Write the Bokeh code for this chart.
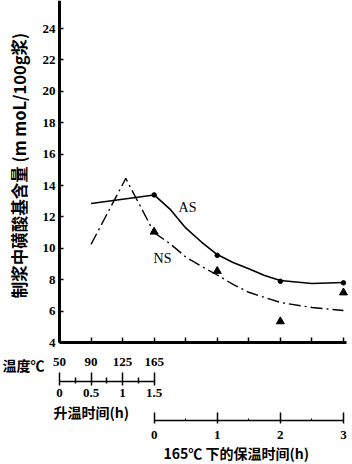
import math
from bokeh.plotting import figure
from bokeh.models import LinearAxis, FixedTicker, Range1d, Label
from bokeh.embed import file_html
from bokeh.resources import INLINE

# ---- data (x in hours from start of heating; heating 0-1.5 h, then 165C hold) ----
heat_len = 1.5

# heating axis
heat_ticks = [0, 0.5, 1.0, 1.5]
heat_minor = [0.25, 0.75, 1.25]
temp_labels = ["50", "90", "125", "165"]
heat_labels = ["0", "0.5", "1", "1.5"]

# hold axis (hours at 165C)
hold_ticks = [0, 1, 2, 3]
hold_minor = [0.5, 1.5, 2.5]
hold_labels = ["0", "1", "2", "3"]

y_ticks = [4, 6, 8, 10, 12, 14, 16, 18, 20, 22, 24]

# AS series
as_heat_t = [0.5, 1.5]
as_heat_v = [12.85, 13.4]
as_hold_t = [0, 0.25, 0.5, 0.75, 1.0, 1.25, 1.5, 1.75, 2.0, 2.5, 3.0]
as_hold_v = [13.4, 12.5, 11.3, 10.4, 9.6, 9.1, 8.7, 8.27, 7.95, 7.76, 7.82]
as_pts_t = [0, 1, 2, 3]
as_pts_v = [13.4, 9.55, 7.9, 7.8]

# NS series
ns_heat_t = [0.5, 1.05, 1.5]
ns_heat_v = [10.25, 14.45, 11.0]
ns_hold_t = [0, 0.25, 0.5, 0.75, 1.0, 1.25, 1.5, 1.75, 2.0, 2.5, 3.0]
ns_hold_v = [11.0, 10.3, 9.45, 8.85, 8.3, 7.7, 7.2, 6.87, 6.55, 6.23, 6.04]
ns_pts_t = [0, 1, 2, 3]
ns_pts_v = [11.05, 8.55, 5.34, 7.18]

SERIF = "Liberation Serif"
CJK = "Noto Sans CJK SC"
W, H = 352, 464

# ---- layout helpers: canvas pixel -> data coordinate ----
X0, XS = 59.0, 63.1      # pixel of t=0, pixels per hour
Y0, YS = 342.0, 15.7     # pixel of value 4, pixels per unit
def X(px):
    return (px - X0) / XS
def Y(py):
    return 4 + (Y0 - py) / YS

p = figure(frame_width=W, frame_height=H,
           x_range=Range1d(X(0), X(W)), y_range=Range1d(Y(H), Y(0)),
           output_backend="svg", toolbar_location=None,
           min_border=0)
p.outline_line_color = None
p.grid.visible = False
p.background_fill_color = "white"
p.border_fill_color = "white"

def shift(ts):
    return [heat_len + t for t in ts]

def style_labels(ax):
    ax.major_label_text_font = SERIF
    ax.major_label_text_font_style = "bold"
    ax.major_label_text_font_size = "13px"
    ax.major_label_text_color = "black"
    ax.axis_line_color = "black"
    ax.major_tick_line_color = "black"
    ax.minor_tick_line_color = "black"

# main x axis (with temperature labels)
xa = p.xaxis[0]
main_ticks = [i * 0.5 for i in range(10)]
xa.fixed_location = Y(342)
xa.bounds = (0, X(346))
xa.ticker = FixedTicker(ticks=main_ticks, minor_ticks=[])
xa.axis_line_width = 3
xa.major_tick_in = 5
xa.major_tick_out = 0
xa.major_tick_line_width = 1.5
overrides = {t: "" for t in main_ticks}
for t, lab in zip(heat_ticks, temp_labels):
    overrides[t] = lab
xa.major_label_overrides = overrides
xa.major_label_standoff = 15
style_labels(xa)

# heating-time axis
ha = LinearAxis(ticker=FixedTicker(ticks=heat_ticks, minor_ticks=heat_minor),
                bounds=(heat_ticks[0], heat_ticks[-1]), fixed_location=Y(381))
ha.major_label_overrides = {t: lab for t, lab in zip(heat_ticks, heat_labels)}
ha.axis_line_width = 1.5
ha.major_tick_in = 9
ha.major_tick_out = 4
ha.minor_tick_in = 4
ha.minor_tick_out = 2
ha.major_tick_line_width = 1.5
ha.minor_tick_line_width = 1.5
ha.major_label_standoff = 3
style_labels(ha)
p.add_layout(ha, "below")

# hold-time axis
da = LinearAxis(ticker=FixedTicker(ticks=shift(hold_ticks), minor_ticks=shift(hold_minor)),
                bounds=(heat_len + hold_ticks[0], heat_len + hold_ticks[-1]),
                fixed_location=Y(420))
da.major_label_overrides = {heat_len + t: lab for t, lab in zip(hold_ticks, hold_labels)}
da.axis_line_width = 1.5
da.major_tick_in = 8
da.major_tick_out = 3
da.minor_tick_in = 2
da.minor_tick_out = 0
da.major_tick_line_width = 1.5
da.major_label_standoff = 7
style_labels(da)
p.add_layout(da, "below")

# y axis
ya = p.yaxis[0]
ya.fixed_location = 0
ya.bounds = (4, Y(0))
ya.ticker = FixedTicker(ticks=y_ticks, minor_ticks=[])
ya.axis_line_width = 3
ya.major_tick_in = 4
ya.major_tick_out = 0
ya.major_tick_line_width = 1.5
ya.major_label_standoff = 4
style_labels(ya)

# curves
p.line(as_heat_t, as_heat_v, line_color="black", line_width=1.6)
p.line(shift(as_hold_t), as_hold_v, line_color="black", line_width=1.6)
p.scatter(shift(as_pts_t), as_pts_v, marker="circle", size=4.5, color="black")

p.line(ns_heat_t, ns_heat_v, line_color="black", line_width=1.4, line_dash="12 4 2 4")
p.line(shift(ns_hold_t), ns_hold_v, line_color="black", line_width=1.4, line_dash="12 4 2 4")
p.scatter(shift(ns_pts_t), ns_pts_v, marker="triangle", size=8, color="black")

# texts
def txt(x, y, s, font, size, style="normal", align="center", angle=0.0):
    p.add_layout(Label(x=x, y=y, text=s, text_font=font, text_font_size=size,
                       text_font_style=style, text_color="black",
                       text_align=align, text_baseline="middle", angle=angle))

txt(X(187), Y(207), "AS", SERIF, "14px")
txt(X(162), Y(258), "NS", SERIF, "14px")
txt(X(23), Y(364), "温度℃", CJK, "14px", "bold")
txt(X(53), Y(411), "升温时间(h)", CJK, "14px", "bold", align="left")
txt(X(163), Y(452), "165℃ 下的保温时间(h)", CJK, "14px", "bold", align="left")
txt(X(18), Y(165), "制浆中磺酸基含量 (m moL/100g浆)", CJK, "16.5px", "bold",
    angle=math.pi / 2)

open("out.html", "w").write(file_html(p, INLINE))
